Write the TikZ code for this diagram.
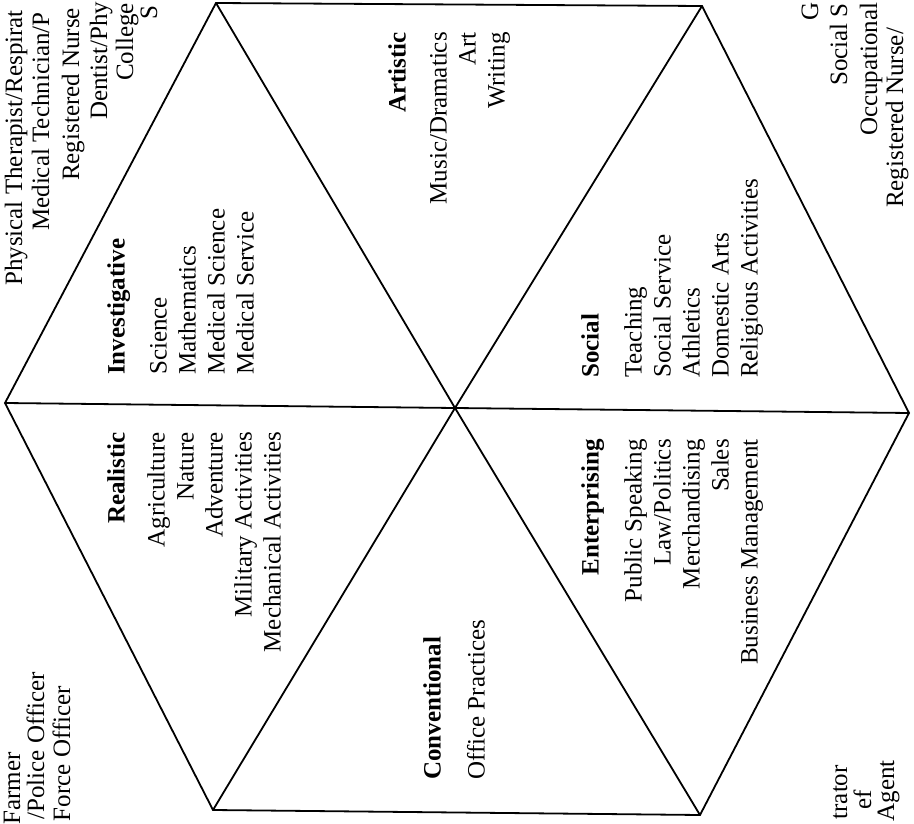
\documentclass[tikz,border=0pt]{standalone}
\usepackage{fontspec}
\setmainfont{Liberation Serif}
\begin{document}
\begin{tikzpicture}[x=1pt,y=-1pt,
  hexline/.style={line width=1.8pt, line join=miter},
  txt/.style={rotate=90, inner sep=0pt, font=\fontsize{25}{29}\selectfont},
  blockR/.style={txt, align=right, anchor=north east},
  blockL/.style={txt, align=left, anchor=north west},
  startline/.style={txt, anchor=base west},
  endline/.style={txt, anchor=base east}]
\useasboundingbox (0,0) rectangle (914,824);
\clip (0,0) rectangle (914,824);
\fill[white] (0,0) rectangle (914,824);
% hexagon vertices
\coordinate (L) at (5,403);
\coordinate (TL) at (216,3);
\coordinate (TR) at (702,6);
\coordinate (R) at (909,413);
\coordinate (BR) at (700,815);
\coordinate (BL) at (213,810);
\coordinate (C) at (455,408);
\draw[hexline] (L) -- (TL) -- (TR) -- (R) -- (BR) -- (BL) -- cycle;
\draw[hexline] (L) -- (C) -- (R);
\draw[hexline] (TL) -- (C) -- (BR);
\draw[hexline] (TR) -- (C) -- (BL);
% sector texts
\node[blockR] (real) at (107,432) {\textbf{Realistic}\\[11pt]Agriculture\\Nature\\Adventure\\Military Activities\\Mechanical Activities};
\node[blockL] (inv) at (107,375) {\textbf{Investigative}\\[13pt]Science\\Mathematics\\Medical Science\\Medical Service};
\node[blockR] (art) at (388,32) {\textbf{Artistic}\\[12pt]Music/Dramatics\\Art\\Writing};
\node[blockL] (soc) at (581,378) {\textbf{Social}\\[14pt]Teaching\\Social Service\\Athletics\\Domestic Arts\\Religious Activities};
\node[blockR] (ent) at (581,439) {\textbf{Enterprising}\\[14pt]Public Speaking\\Law/Politics\\Merchandising\\Sales\\Business Management};
\node[blockL] (conv) at (423,780) {\textbf{Conventional}\\[15pt]Office Practices};
% outside texts (partial in the reference), top left
\node[startline] (tl1) at (22,286) {Physical Therapist/Respirat};
\node[startline] (tl2) at (49,231) {Medical Technician/P};
\node[startline] (tl3) at (79,181) {Registered Nurse};
\node[startline] (tl4) at (107,120) {Dentist/Phy};
\node[startline] (tl5) at (133,81) {College};
\node[startline] (tl6) at (157,20) {S};
% top right
\node[startline] (tr1) at (818,21) {G};
\node[startline] (tr2) at (847,86) {Social S};
\node[startline] (tr3) at (877,136) {Occupational};
\node[startline] (tr4) at (903,208) {Registered Nurse/};
% bottom left
\node[endline] (bl1) at (20,752) {Farmer};
\node[endline] (bl2) at (44,672) {/Police Officer};
\node[endline] (bl3) at (70,686) {Force Officer};
% bottom right
\node[endline] (br1) at (847,765) {trator};
\node[endline] (br2) at (871,790) {ef};
\node[endline] (br3) at (894,760) {Agent};
\end{tikzpicture}
\end{document}
